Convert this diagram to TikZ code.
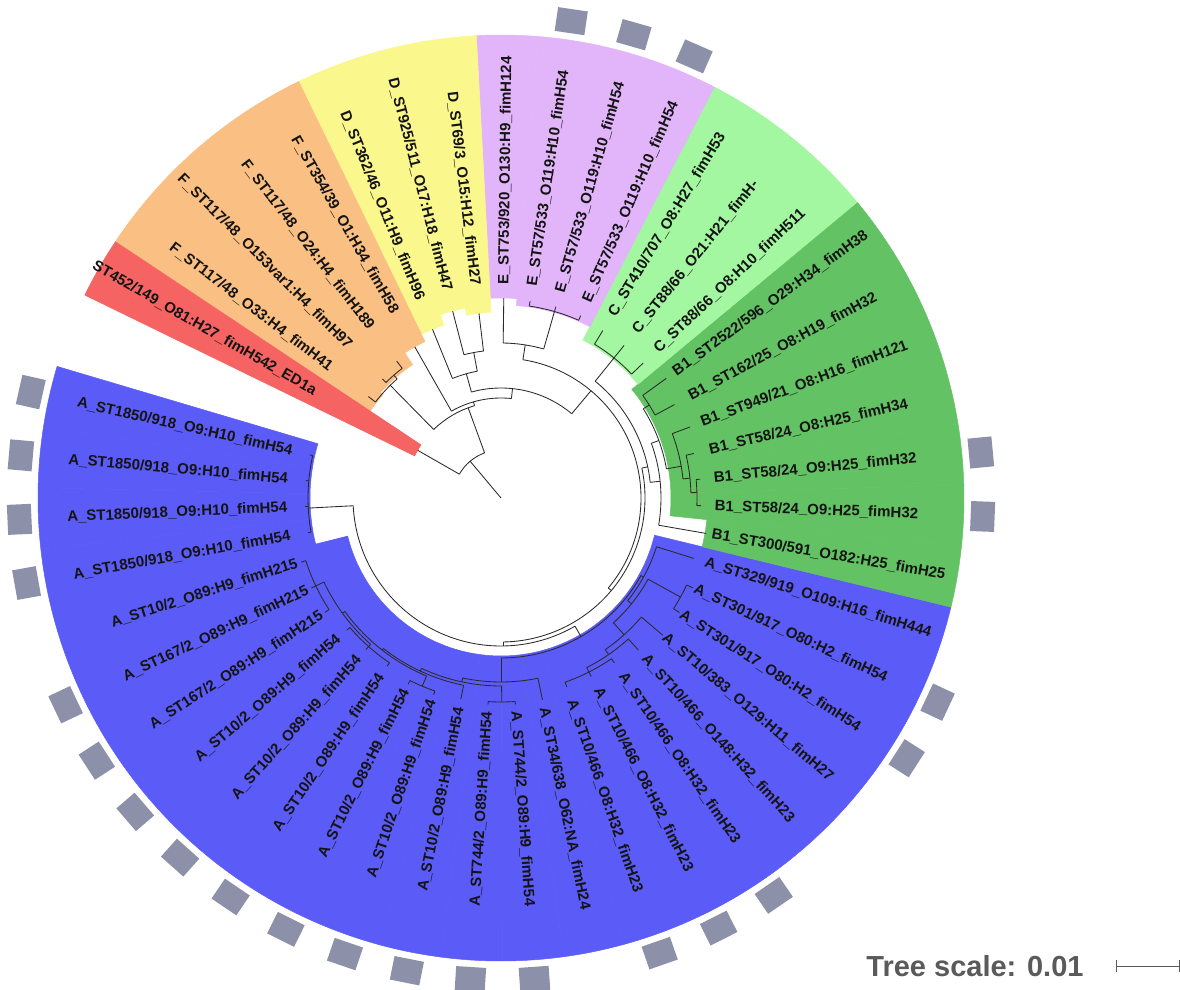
\documentclass[tikz,border=0pt]{standalone}
\usepackage{fontspec}
\setmainfont{Liberation Sans}
\definecolor{cA}{HTML}{5B5BF7}
\definecolor{cB}{HTML}{63C263}
\definecolor{cC}{HTML}{A3F7A0}
\definecolor{cE}{HTML}{E2B5FA}
\definecolor{cD}{HTML}{FAF78C}
\definecolor{cF}{HTML}{FABF82}
\definecolor{cR}{HTML}{F56462}
\definecolor{sqc}{HTML}{8C90A8}
\definecolor{treec}{HTML}{2A2A2A}
\definecolor{scalec}{HTML}{5A5A5A}
\newcommand\cwedge[3]{%
  \pgfmathsetmacro\cwA{167.3+7.62*#1-3.81}%
  \pgfmathsetmacro\cwB{167.3+7.62*#1+3.81}%
  \fill[#2,draw=#2,line width=0.5pt] (\cwA:#3) arc[start angle=\cwA,end angle=\cwB,radius=#3pt] -- (\cwB:463) arc[start angle=\cwB,end angle=\cwA,radius=463pt] -- cycle;}
\newcommand\tarc[3]{\draw[treeline] (#2:#1) arc[start angle=#2,end angle=#3,radius=#1pt];}
\newcommand\trad[3]{\draw[treeline] (#1:#2) -- (#1:#3);}
\newcommand\leaf[2]{%
  \pgfmathsetmacro\lfA{167.3+7.62*#1}%
  \pgfmathsetmacro\lfM{mod(\lfA,360)}%
  \pgfmathsetmacro\lfR{\lfA+180}%
  \ifdim\lfM pt>90pt\relax
    \ifdim\lfM pt<270pt\relax
      \node[lab,anchor=east,rotate=\lfR] (L#1) at (\lfA:214) {#2};%
    \else
      \node[lab,anchor=west,rotate=\lfA] (L#1) at (\lfA:214) {#2};%
    \fi
  \else
    \node[lab,anchor=west,rotate=\lfA] (L#1) at (\lfA:214) {#2};%
  \fi}
\newcommand\gsq[1]{\pgfmathsetmacro\sqAng{167.3+7.62*#1}\node[sqn,rotate=\sqAng] (S#1) at (\sqAng:482) {};}
\begin{document}
\begin{tikzpicture}[x=1pt,y=1pt,
  treeline/.style={draw=treec,line width=0.85pt},
  lab/.style={font=\fontsize{15}{15}\selectfont\bfseries,text=black!92,inner sep=0pt,outer sep=0pt},
  sqn/.style={fill=sqc,draw=none,minimum width=24pt,minimum height=30pt,inner sep=0pt},
  scaletext/.style={font=\fontsize{29}{29}\selectfont\bfseries,text=scalec,inner sep=0pt}]
\useasboundingbox (-501,-492) rectangle (679,498);
% coloured ranges
\foreach \k/\c/\r in {0/cA/191,1/cA/191,2/cA/191,3/cA/191,4/cA/158,5/cA/158,6/cA/158,7/cA/158,8/cA/158,9/cA/158,10/cA/158,11/cA/158,12/cA/158,13/cA/158,14/cA/158,15/cA/158,16/cA/158,17/cA/158,18/cA/158,19/cA/158,20/cA/158,21/cA/158,22/cA/158,23/cA/158,
  24/cB/207,25/cB/170,26/cB/170,27/cB/170,28/cB/170,29/cB/170,30/cB/170,
  31/cC/178,32/cC/178,33/cC/178,
  34/cE/193,35/cE/193,36/cE/193,37/cE/200,
  38/cD/186,39/cD/193,40/cD/182,
  41/cF/174,42/cF/160,43/cF/160,44/cF/157,
  45/cR/96}{\cwedge{\k}{\c}{\r}}
% tree
\trad{490}{0}{48}
\tarc{48}{470}{510.2} \trad{510.2}{48}{96} \trad{470}{48}{96}
\tarc{96}{466}{494.5} \trad{466}{96}{100} \trad{494.5}{96}{158}
\tarc{158}{491.1}{502.6} \trad{502.6}{158}{167} \trad{491.1}{158}{163}
\tarc{163}{487.3}{494.9} \trad{494.9}{163}{168} \trad{487.3}{163}{172}
\tarc{100}{444}{479.7} \trad{479.7}{100}{174} \trad{444}{100}{110}
\tarc{110}{410}{465.6} \trad{465.6}{110}{129} \trad{410}{110}{140}
\tarc{129}{460.6}{472.1} \trad{472.1}{129}{182} \trad{460.6}{129}{148}
\tarc{148}{456.8}{464.5} \trad{456.8}{148}{186} \trad{464.5}{148}{193}
\tarc{140}{320}{441} \trad{441}{140}{155} \trad{320}{140}{144}
\tarc{155}{434}{449.2} \trad{434}{155}{194} \trad{449.2}{155}{200}
\tarc{194}{426.4}{441.6} \trad{426.4}{194}{199} \trad{434}{194}{199} \trad{441.6}{194}{199}
\tarc{144}{271}{372} \trad{271}{144}{148} \trad{372}{144}{150}
\tarc{150}{366}{411.1} \trad{366}{150}{160} \trad{411.1}{150}{180}
\tarc{180}{403.5}{418.7} \trad{403.5}{180}{196} \trad{411.1}{180}{196} \trad{418.7}{180}{196}
\tarc{160}{350.2}{380} \trad{350.2}{160}{208} \trad{380}{160}{168}
\tarc{168}{370}{392.1} \trad{392.1}{168}{175} \trad{370}{168}{183}
\tarc{175}{388.3}{395.9} \trad{395.9}{175}{204} \trad{388.3}{175}{197}
\tarc{183}{366}{380.6} \trad{380.6}{183}{202} \trad{366}{183}{190}
\tarc{190}{361.6}{373} \trad{373}{190}{198} \trad{361.6}{190}{196}
\tarc{196}{357.8}{365.4} \trad{357.8}{196}{200} \trad{365.4}{196}{200}
\tarc{148}{183}{300} \trad{183}{148}{193} \trad{300}{148}{160}
\tarc{193}{167.3}{190.2} \trad{167.3}{193}{196} \trad{174.9}{193}{196} \trad{182.5}{193}{196} \trad{190.2}{193}{196}
\tarc{160}{270}{331} \trad{270}{160}{184} \trad{331}{160}{163}
\tarc{184}{258}{281.6} \trad{258}{184}{188} \trad{281.6}{184}{206}
\tarc{188}{245}{270.2} \trad{245}{188}{191} \trad{270.2}{188}{204}
\tarc{204}{266.4}{274} \trad{266.4}{204}{207} \trad{274}{204}{207}
\tarc{191}{232}{258.7} \trad{232}{191}{193} \trad{258.7}{191}{205}
\tarc{193}{216}{247.3} \trad{216}{193}{196} \trad{247.3}{193}{204}
\tarc{204}{243.5}{251.1} \trad{243.5}{204}{208} \trad{251.1}{204}{208}
\tarc{196}{205.4}{228.3} \trad{205.4}{196}{205} \trad{228.3}{196}{199}
\tarc{205}{197.8}{213} \trad{197.8}{205}{210} \trad{205.4}{205}{210} \trad{213}{205}{210}
\tarc{199}{220.6}{235.9} \trad{220.6}{199}{203} \trad{228.3}{199}{203} \trad{235.9}{199}{203}
\tarc{163}{321}{342.6} \trad{321}{163}{168} \trad{342.6}{163}{202}
\tarc{168}{312}{331.1} \trad{312}{168}{184} \trad{331.1}{168}{205}
\tarc{205}{327.3}{334.9} \trad{327.3}{205}{212} \trad{334.9}{205}{212}
\tarc{184}{304.5}{319.7} \trad{304.5}{184}{190} \trad{319.7}{184}{212}
\tarc{190}{296.8}{312.1} \trad{296.8}{190}{195} \trad{312.1}{190}{205}
\tarc{195}{289.2}{304.5} \trad{289.2}{195}{200} \trad{296.8}{195}{200} \trad{304.5}{195}{200}
% labels
\leaf{0}{A\_ST1850/918\_O9:H10\_fimH54}
\leaf{1}{A\_ST1850/918\_O9:H10\_fimH54}
\leaf{2}{A\_ST1850/918\_O9:H10\_fimH54}
\leaf{3}{A\_ST1850/918\_O9:H10\_fimH54}
\leaf{4}{A\_ST10/2\_O89:H9\_fimH215}
\leaf{5}{A\_ST167/2\_O89:H9\_fimH215}
\leaf{6}{A\_ST167/2\_O89:H9\_fimH215}
\leaf{7}{A\_ST10/2\_O89:H9\_fimH54}
\leaf{8}{A\_ST10/2\_O89:H9\_fimH54}
\leaf{9}{A\_ST10/2\_O89:H9\_fimH54}
\leaf{10}{A\_ST10/2\_O89:H9\_fimH54}
\leaf{11}{A\_ST10/2\_O89:H9\_fimH54}
\leaf{12}{A\_ST10/2\_O89:H9\_fimH54}
\leaf{13}{A\_ST744/2\_O89:H9\_fimH54}
\leaf{14}{A\_ST744/2\_O89:H9\_fimH54}
\leaf{15}{A\_ST34/638\_O62:NA\_fimH24}
\leaf{16}{A\_ST10/466\_O8:H32\_fimH23}
\leaf{17}{A\_ST10/466\_O8:H32\_fimH23}
\leaf{18}{A\_ST10/466\_O8:H32\_fimH23}
\leaf{19}{A\_ST10/466\_O148:H32\_fimH23}
\leaf{20}{A\_ST10/383\_O129:H11\_fimH27}
\leaf{21}{A\_ST301/917\_O80:H2\_fimH54}
\leaf{22}{A\_ST301/917\_O80:H2\_fimH54}
\leaf{23}{A\_ST329/919\_O109:H16\_fimH444}
\leaf{24}{B1\_ST300/591\_O182:H25\_fimH25}
\leaf{25}{B1\_ST58/24\_O9:H25\_fimH32}
\leaf{26}{B1\_ST58/24\_O9:H25\_fimH32}
\leaf{27}{B1\_ST58/24\_O8:H25\_fimH34}
\leaf{28}{B1\_ST949/21\_O8:H16\_fimH121}
\leaf{29}{B1\_ST162/25\_O8:H19\_fimH32}
\leaf{30}{B1\_ST2522/596\_O29:H34\_fimH38}
\leaf{31}{C\_ST88/66\_O8:H10\_fimH511}
\leaf{32}{C\_ST88/66\_O21:H21\_fimH-}
\leaf{33}{C\_ST410/707\_O8:H27\_fimH53}
\leaf{34}{E\_ST57/533\_O119:H10\_fimH54}
\leaf{35}{E\_ST57/533\_O119:H10\_fimH54}
\leaf{36}{E\_ST57/533\_O119:H10\_fimH54}
\leaf{37}{E\_ST753/920\_O130:H9\_fimH124}
\leaf{38}{D\_ST69/3\_O15:H12\_fimH27}
\leaf{39}{D\_ST925/511\_O17:H18\_fimH47}
\leaf{40}{D\_ST362/46\_O11:H9\_fimH96}
\leaf{41}{F\_ST354/39\_O1:H34\_fimH58}
\leaf{42}{F\_ST117/48\_O24:H4\_fimH189}
\leaf{43}{F\_ST117/48\_O153var1:H4\_fimH97}
\leaf{44}{F\_ST117/48\_O33:H4\_fimH41}
\leaf{45}{ST452/149\_O81:H27\_fimH542\_ED1a}
% squares
\foreach \k in {0,1,2,3,5,6,7,8,9,10,11,12,13,14,16,17,18,21,22,25,26,34,35,36}{\gsq{\k}}
% scale
\node[scaletext] (scaletxt) at (474,-468) {Tree scale: 0.01};
\coordinate (sb1) at (615,-468);
\coordinate (sb2) at (678,-468);
\draw[scalec,line width=0.9pt] (sb1) -- (sb2);
\draw[scalec,line width=0.9pt] ([yshift=6pt]sb1) -- ([yshift=-6pt]sb1);
\draw[scalec,line width=0.9pt] ([yshift=6pt]sb2) -- ([yshift=-6pt]sb2);
\end{tikzpicture}
\end{document}
